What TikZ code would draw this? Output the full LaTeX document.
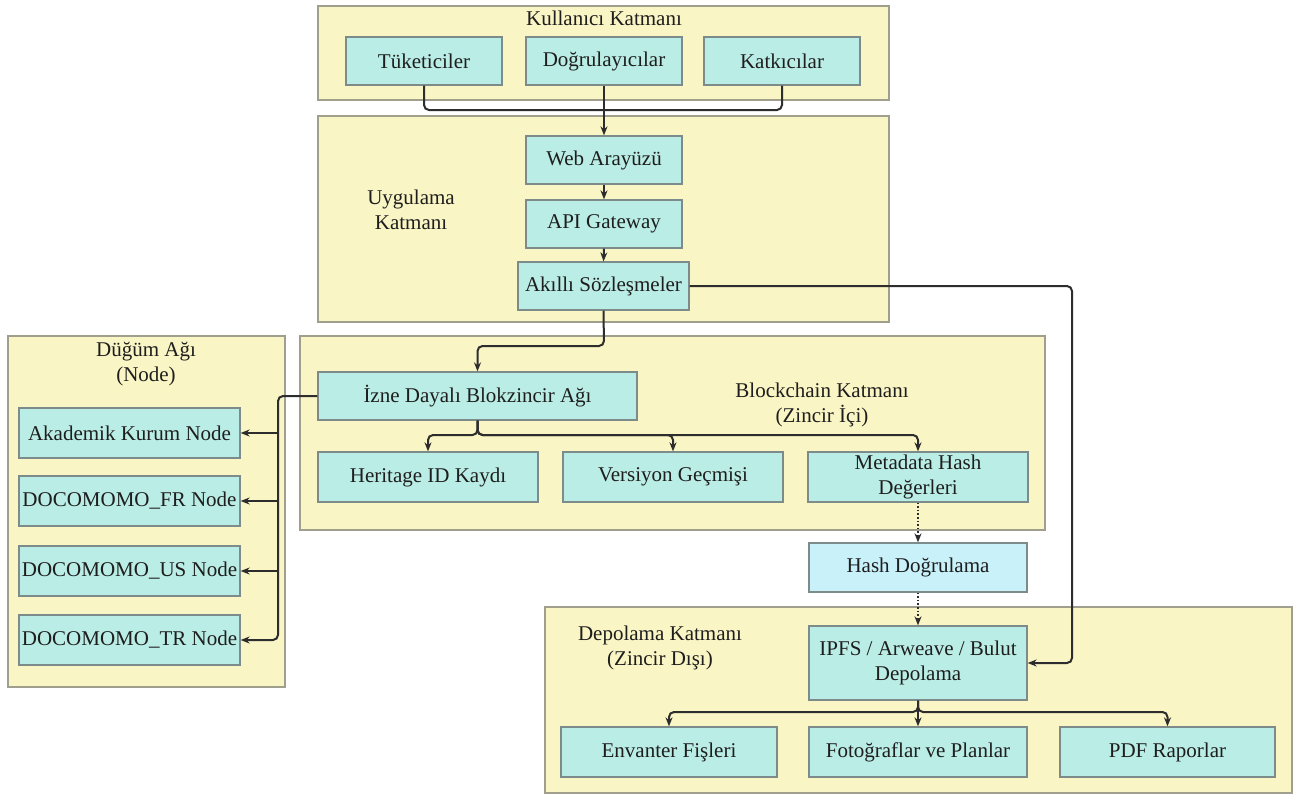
\documentclass[tikz,border=0pt]{standalone}
\usepackage{fontspec}
\setmainfont{Liberation Serif}
\usetikzlibrary{arrows.meta}
\definecolor{layerfill}{RGB}{250,245,196}
\definecolor{layerdraw}{RGB}{160,158,140}
\definecolor{boxfill}{RGB}{186,237,229}
\definecolor{boxdraw}{RGB}{125,140,138}
\definecolor{hashfill}{RGB}{200,241,250}
\definecolor{txt}{RGB}{30,30,30}
\definecolor{wire}{RGB}{45,45,45}
\tikzset{
  layer/.style={draw=layerdraw, fill=layerfill, line width=1.3pt, inner sep=0pt},
  box/.style={draw=boxdraw, fill=boxfill, line width=1.3pt, text=txt, align=center, inner sep=0pt,
    font=\fontsize{21}{25}\selectfont},
  lbl/.style={text=txt, align=center, font=\fontsize{21}{25}\selectfont},
  conn/.style={draw=wire, line width=2pt, rounded corners=5pt},
  arr/.style={conn, -{Stealth[length=9pt,width=7pt]}},
  dotarr/.style={draw=wire, line width=1.6pt, dotted, -{Stealth[length=9pt,width=7pt]}},
}
\begin{document}
\begin{tikzpicture}[x=1pt,y=-1pt]
\useasboundingbox (0,0) rectangle (1301,798);
\fill[white] (0,0) rectangle (1301,798);
% layers
\node[layer, minimum width=571pt, minimum height=94pt] (userL) at (603.5,53) {};
\node[layer, minimum width=571pt, minimum height=206pt] (appL) at (603.5,219) {};
\node[layer, minimum width=277pt, minimum height=351pt] (nodeL) at (146.5,511.5) {};
\node[layer, minimum width=745pt, minimum height=194pt] (chainL) at (672.5,433) {};
\node[layer, minimum width=747pt, minimum height=186pt] (storeL) at (918.5,700) {};
% layer labels
\node[lbl] (tUser) at (604,18) {Kullanıcı Katmanı};
\node[lbl] (tApp) at (411,210) {Uygulama\\Katmanı};
\node[lbl] (tNode) at (146,364) {Düğüm Ağı\\(Node)};
\node[lbl] (tChain) at (822,405) {Blockchain Katmanı\\(Zincir İçi)};
\node[lbl] (tStore) at (660,648) {Depolama Katmanı\\(Zincir Dışı)};
% user boxes
\node[box, minimum width=156pt, minimum height=48pt] (tuk) at (424,61) {Tüketiciler};
\node[box, minimum width=156pt, minimum height=48pt] (dog) at (604,61) {Doğrulayıcılar};
\node[box, minimum width=156pt, minimum height=48pt] (kat) at (782,61) {Katkıcılar};
% app boxes
\node[box, minimum width=156pt, minimum height=48pt] (web) at (604,160) {Web Arayüzü};
\node[box, minimum width=156pt, minimum height=48pt] (api) at (604,224) {API Gateway};
\node[box, minimum width=171pt, minimum height=48pt] (akilli) at (603.5,286) {Akıllı Sözleşmeler};
% chain boxes
\node[box, minimum width=319pt, minimum height=48pt] (izne) at (477.5,396) {İzne Dayalı Blokzincir Ağı};
\node[box, minimum width=220pt, minimum height=50pt] (heritage) at (428,477) {Heritage ID Kaydı};
\node[box, minimum width=220pt, minimum height=50pt] (versiyon) at (673,477) {Versiyon Geçmişi};
\node[box, minimum width=220pt, minimum height=50pt] (metadata) at (918,477) {Metadata Hash\\Değerleri};
% hash
\node[box, fill=hashfill, minimum width=218pt, minimum height=49pt] (hash) at (918,567.5) {Hash Doğrulama};
% storage
\node[box, minimum width=218pt, minimum height=74pt] (ipfs) at (918,663) {IPFS / Arweave / Bulut\\Depolama};
\node[box, minimum width=216pt, minimum height=50pt] (envanter) at (669,752) {Envanter Fişleri};
\node[box, minimum width=218pt, minimum height=50pt] (foto) at (918,752) {Fotoğraflar ve Planlar};
\node[box, minimum width=215pt, minimum height=50pt] (pdf) at (1167.5,752) {PDF Raporlar};
% node network boxes
\node[box, minimum width=221pt, minimum height=50pt] (akad) at (129.5,433) {Akademik Kurum Node};
\node[box, minimum width=221pt, minimum height=50pt] (fr) at (129.5,501) {DOCOMOMO\_FR Node};
\node[box, minimum width=221pt, minimum height=50pt] (us) at (129.5,571) {DOCOMOMO\_US Node};
\node[box, minimum width=221pt, minimum height=50pt] (tr) at (129.5,640) {DOCOMOMO\_TR Node};
% connectors: user layer
\coordinate (ubus) at (604,110);
\draw[conn] (tuk.south) |- (ubus) -| (kat.south);
\draw[arr] (dog.south) -- (web.north);
\draw[arr] (web.south) -- (api.north);
\draw[arr] (api.south) -- (akilli.north);
% akilli -> izne
\coordinate (abend) at (604,346);
\draw[arr] (akilli.south) -- (abend) -| (izne.north);
% akilli -> ipfs
\coordinate (rbend) at (1072,286);
\draw[arr] (akilli.east) -- (rbend) |- (ipfs.east);
% izne -> nodes
\coordinate (nbus) at (278,396);
\draw[arr] (izne.west) -- (nbus) |- (tr.east);
\draw[arr] (akad.east -| nbus) -- (akad.east);
\draw[arr] (fr.east -| nbus) -- (fr.east);
\draw[arr] (us.east -| nbus) -- (us.east);
% izne -> chain boxes
\coordinate (cbus) at (477.5,435);
\draw[arr] (izne.south) -- (cbus) -| (heritage.north);
\draw[arr] (izne.south) -- (cbus) -| (versiyon.north);
\draw[arr] (izne.south) -- (cbus) -| (metadata.north);
% dotted
\draw[dotarr] (metadata.south) -- (hash.north);
\draw[dotarr] (hash.south) -- (ipfs.north);
% ipfs -> storage boxes
\coordinate (sbus) at (918,712);
\draw[arr] (ipfs.south) -- (sbus) -| (envanter.north);
\draw[arr] (ipfs.south) -- (sbus) -| (pdf.north);
\draw[arr] (ipfs.south) -- (foto.north);
\end{tikzpicture}
\end{document}
